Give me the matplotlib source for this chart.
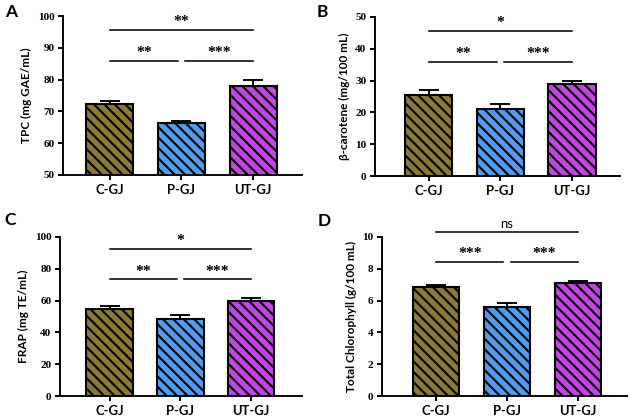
import numpy as np
import matplotlib
matplotlib.use("Agg")
from matplotlib import pyplot as plt

# groups and colours
groups = ["C-GJ", "P-GJ", "UT-GJ"]
bar_colors = ["#8B7B32", "#4E9DEE", "#C444E6"]

# panel A: TPC
tpc_mean = [72.2, 66.2, 78.1]
tpc_err = [1.2, 0.9, 1.7]
# panel B: beta-carotene
bcar_mean = [25.5, 21.1, 28.8]
bcar_err = [1.5, 1.4, 1.2]
# panel C: FRAP
frap_mean = [54.7, 48.6, 59.5]
frap_err = [1.7, 2.2, 2.4]
# panel D: total chlorophyll
chl_mean = [6.83, 5.61, 7.10]
chl_err = [0.14, 0.25, 0.13]

# significance labels: C vs UT, C vs P, P vs UT
sig_A = ["**", "**", "***"]
sig_B = ["*", "**", "***"]
sig_C = ["*", "**", "***"]
sig_D = ["ns", "***", "***"]
# bracket heights (top, lower)
lines_A = [95.6, 85.8]
lines_B = [45.6, 35.8]
lines_C = [92.6, 73.3]
lines_D = [10.3, 8.43]

plt.rcParams["hatch.linewidth"] = 1.2
sans = ["Lato", "DejaVu Sans"]
serif = ["Liberation Serif", "DejaVu Serif"]

fig = plt.figure(figsize=(5.04, 3.344), dpi=125)

W, H = 630.0, 418.0


def px_axes(l, r, t, b):
    return fig.add_axes([l / W, 1 - b / H, (r - l) / W, (b - t) / H])


def panel(ax, mean, err, ylab, ylim, yticks, xlim, sig, levels):
    x = np.arange(len(groups))
    ax.bar(x, mean, width=0.66, color=bar_colors, edgecolor="black",
           linewidth=1.2, hatch="\\\\\\\\", zorder=2)
    ax.errorbar(x, mean, yerr=[np.zeros(len(err)), err], fmt="none",
                ecolor="black", elinewidth=1.1, capsize=6, capthick=1.1, zorder=1)
    ax.set_ylim(*ylim)
    ax.set_xlim(*xlim)
    ax.set_yticks(yticks)
    ax.set_xticks(x)
    ax.set_xticklabels(groups, family=sans, fontweight="bold", fontsize=7.5)
    for lab in ax.get_yticklabels():
        lab.set_family(serif)
        lab.set_fontweight("bold")
        lab.set_fontsize(6.5)
    ax.set_ylabel(ylab, family=sans, fontweight="bold", fontsize=6.8, labelpad=3)
    for s in ["top", "right"]:
        ax.spines[s].set_visible(False)
    for s in ["left", "bottom"]:
        ax.spines[s].set_linewidth(1.1)
    ax.tick_params(width=1.1, length=3, pad=2)

    pairs = [(0, 2, levels[0]), (0, 0.95, levels[1]), (1.05, 2, levels[1])]
    for (x0, x1, y), lab in zip(pairs, sig):
        ax.plot([x0, x1], [y, y], color="black", lw=0.9, clip_on=False)
        if lab == "ns":
            ax.annotate(lab, ((x0 + x1) / 2, y), xytext=(0, 5), textcoords="offset points",
                        ha="center", va="center", family=sans, fontsize=7.5,
                        annotation_clip=False)
        else:
            ax.annotate(lab, ((x0 + x1) / 2, y), xytext=(0, 4.5), textcoords="offset points",
                        ha="center", va="center", family=serif, fontweight="bold",
                        fontsize=9, annotation_clip=False)


axA = px_axes(63, 302, 16, 175)
panel(axA, tpc_mean, tpc_err, "TPC (mg GAE/mL)", (50, 100), range(50, 101, 10),
      (-0.65, 2.68), sig_A, lines_A)
axB = px_axes(375, 620, 17, 176)
panel(axB, bcar_mean, bcar_err, "β-carotene (mg/100 mL)", (0, 50), range(0, 51, 10),
      (-0.75, 2.67), sig_B, lines_B)
axC = px_axes(60, 302, 237, 396)
panel(axC, frap_mean, frap_err, "FRAP (mg TE/mL)", (0, 100), range(0, 101, 20),
      (-0.70, 2.72), sig_C, lines_C)
axD = px_axes(382, 627, 237, 396)
panel(axD, chl_mean, chl_err, "Total Chlorophyll (g/100 mL)", (0, 10), range(0, 11, 2),
      (-0.76, 2.69), sig_D, lines_D)

for lab, (px, py) in zip("ABCD", [(5, 4), (317, 4), (4, 212), (318, 213)]):
    fig.text(px / W, 1 - py / H, lab, family=sans, fontweight="bold", fontsize=10,
             ha="left", va="top")

fig.savefig("out.png", dpi=125)
